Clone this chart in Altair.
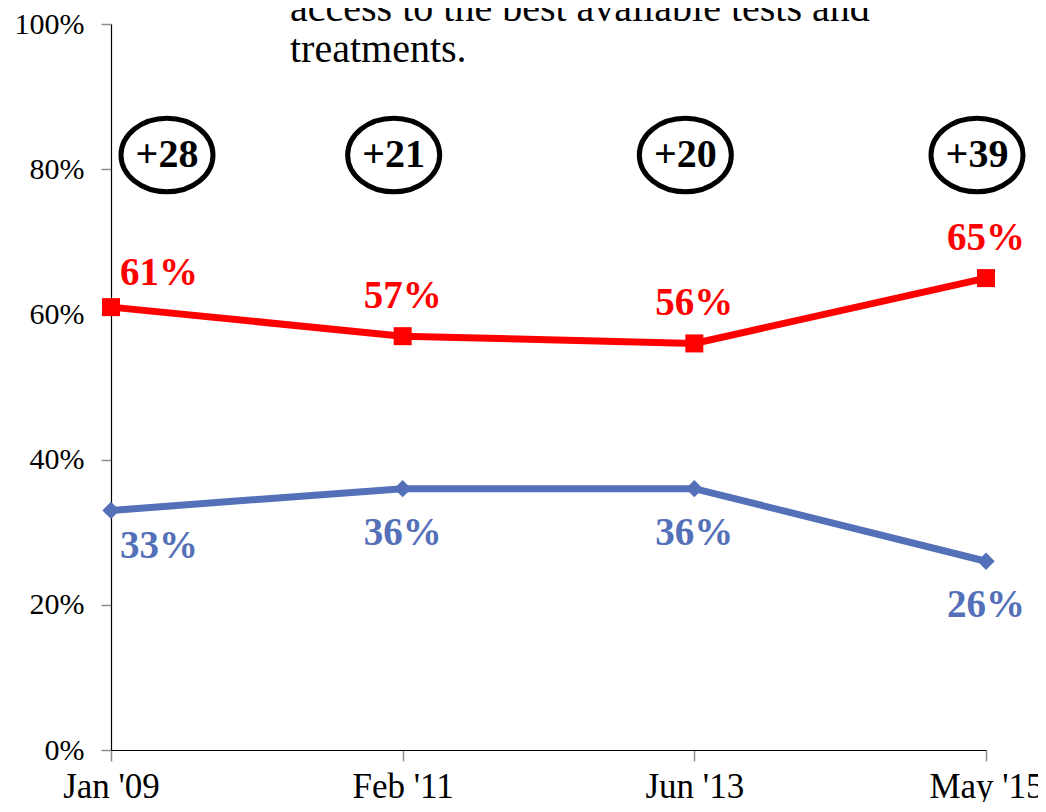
import altair as alt
import pandas as pd

dates = ["Jan '09", "Feb '11", "Jun '13", "May '15"]
red_values = [61, 57, 56, 65]
blue_values = [33, 36, 36, 26]
gap_labels = ["+28", "+21", "+20", "+39"]
note_lines = ["access to the best available tests and", "treatments."]

RED = "#FF0000"
BLUE = "#5470B8"
SERIF = "Liberation Serif"

rows = []
for i, d in enumerate(dates):
    rows.append({"date": d, "idx": i, "series": "red", "value": red_values[i] / 100,
                 "label": f"{red_values[i]}%"})
    rows.append({"date": d, "idx": i, "series": "blue", "value": blue_values[i] / 100,
                 "label": f"{blue_values[i]}%"})
df = pd.DataFrame(rows)
gaps = pd.DataFrame({"date": dates, "idx": list(range(len(dates))), "gap": gap_labels})

x_enc = alt.X("date:O", sort=dates, scale=alt.Scale(type="point", padding=0),
              axis=alt.Axis(title=None, labelAngle=0, labelFont=SERIF, labelFontSize=35,
                            labelColor="black", labelPadding=8, domainColor="black",
                            domainWidth=1.2, tickColor="#8c8c8c", tickSize=11, tickWidth=1.5,
                            grid=False))
y_enc = alt.Y("value:Q", scale=alt.Scale(domain=[0, 1]),
              axis=alt.Axis(title=None, format=".0%", values=[0, 0.2, 0.4, 0.6, 0.8, 1.0],
                            labelFont=SERIF, labelFontSize=30, labelColor="black",
                            labelPadding=17, domainColor="black", domainWidth=1.2,
                            tickColor="#8c8c8c", tickSize=10, tickWidth=1.5, grid=False))

base = alt.Chart(df).encode(x=x_enc, y=y_enc)
red = base.transform_filter("datum.series == 'red'")
blue = base.transform_filter("datum.series == 'blue'")

red_line = red.mark_line(color=RED, strokeWidth=7)
red_pts = red.mark_point(shape="square", filled=True, size=324, color=RED, opacity=1)
blue_line = blue.mark_line(color=BLUE, strokeWidth=7)
blue_pts = blue.mark_point(shape="diamond", filled=True, size=300, color=BLUE, opacity=1)

lab = dict(font=SERIF, fontSize=39, fontWeight="bold", baseline="alphabetic")
red_lab_first = red.transform_filter("datum.idx == 0").mark_text(
    align="left", dx=9, dy=-22, color=RED, **lab).encode(text="label:N")
red_lab_rest = red.transform_filter("datum.idx > 0").mark_text(
    align="center", dy=-28, color=RED, **lab).encode(text="label:N")
blue_lab_first = blue.transform_filter("datum.idx == 0").mark_text(
    align="left", dx=9, dy=48, color=BLUE, **lab).encode(text="label:N")
blue_lab_rest = blue.transform_filter("datum.idx > 0").mark_text(
    align="center", dy=56, color=BLUE, **lab).encode(text="label:N")

ELLIPSE = ("M-1,0 C-1,-0.44 -0.552,-0.8 0,-0.8 C0.552,-0.8 1,-0.44 1,0 "
           "C1,0.44 0.552,0.8 0,0.8 C-0.552,0.8 -1,0.44 -1,0 Z")
gbase = alt.Chart(gaps).encode(x=alt.X("date:O", sort=dates), y=alt.value(131))
g_first = gbase.transform_filter("datum.idx == 0")
g_rest = gbase.transform_filter("datum.idx > 0")
ell = dict(shape=ELLIPSE, size=8464, filled=False, stroke="black", strokeWidth=5, opacity=1)
gtxt = dict(font=SERIF, fontSize=40, fontWeight="bold", color="black",
            baseline="middle", align="center")
g_ell_first = g_first.mark_point(xOffset=56, **ell)
g_ell_rest = g_rest.mark_point(xOffset=-9, **ell)
g_txt_first = g_first.mark_text(dx=56, **gtxt).encode(text="gap:N")
g_txt_rest = g_rest.mark_text(dx=-9, **gtxt).encode(text="gap:N")

note = alt.Chart(pd.DataFrame({"n": [0]})).mark_text(
    text=note_lines, font=SERIF, fontSize=40, lineHeight=41, align="left",
    baseline="alphabetic", color="black", clip=False
).encode(x=alt.value(179), y=alt.value(-3))

chart = alt.layer(
    red_line, blue_line, red_pts, blue_pts,
    red_lab_first, red_lab_rest, blue_lab_first, blue_lab_rest,
    g_ell_first, g_ell_rest, g_txt_first, g_txt_rest, note
).properties(
    width=875, height=726,
    autosize=alt.AutoSizeParams(type="none"),
    padding={"left": 103, "top": 16, "right": 52, "bottom": 52},
    view=alt.ViewBackground(stroke="transparent", strokeWidth=0),
).configure_view(stroke="transparent", strokeWidth=0).configure_axis(grid=False).configure(background="white")

chart.save("out.html", embed_options={"renderer": "svg", "actions": False})
